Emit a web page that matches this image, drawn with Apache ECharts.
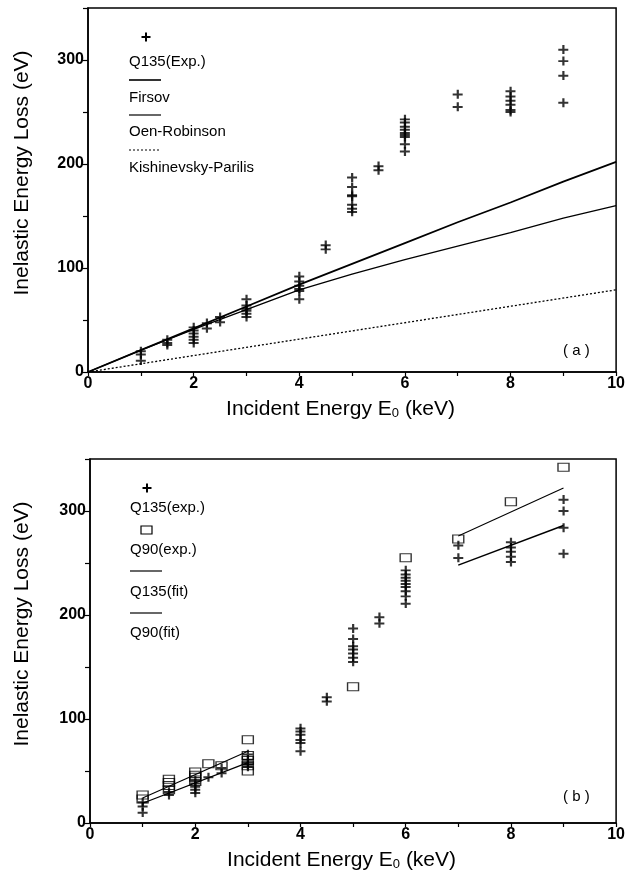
<!DOCTYPE html>
<html>
<head>
<meta charset="utf-8">
<script src="https://cdn.jsdelivr.net/npm/echarts@6/dist/echarts.min.js"></script>
<style>
  html, body { margin: 0; background: #fff; }
  #chart { width: 628px; height: 875px; }
</style>
</head>
<body>
<div id="chart"></div>
<script>
// ---- data ----
const xLabels = [0, 2, 4, 6, 8, 10];
const yLabels = [0, 100, 200, 300];

// (a) measured Q135 points [E0 keV, loss eV]
const q135a = [
  [1, 20], [1, 17], [1, 11],
  [1.5, 31], [1.5, 28], [1.5, 26],
  [2, 43], [2, 40], [2, 37], [2, 34], [2, 31], [2, 28],
  [2.25, 47], [2.25, 42],
  [2.5, 53], [2.5, 48],
  [3, 70], [3, 64], [3, 61], [3, 59], [3, 56], [3, 53],
  [4, 92], [4, 87], [4, 83], [4, 80], [4, 78], [4, 70],
  [4.5, 122], [4.5, 118],
  [5, 187], [5, 178], [5, 170], [5, 169], [5, 161], [5, 157], [5, 154],
  [5.5, 198], [5.5, 194],
  [6, 243], [6, 240], [6, 236], [6, 233], [6, 230], [6, 228], [6, 226], [6, 219], [6, 212],
  [7, 267], [7, 255],
  [8, 270], [8, 265], [8, 261], [8, 257], [8, 252], [8, 250],
  [9, 310], [9, 299], [9, 285], [9, 259]
];
// (a) theory curves
const firsov = [[0, 0], [1, 21], [2, 42], [3, 63], [4, 84], [5, 104], [6, 124], [7, 144], [8, 163], [9, 183], [10, 202]];
const oenRobinson = [[0, 0], [1, 21], [2, 41], [3, 60], [4, 79], [5, 94], [6, 108], [7, 121], [8, 134], [9, 148], [10, 160]];
const kishParilis = [[0, 0], [10, 79]];

// (b) measured points
const q135b = [
  [1, 20], [1, 16], [1, 10],
  [1.5, 30], [1.5, 27],
  [2, 41], [2, 38], [2, 35], [2, 32], [2, 29],
  [2.25, 44],
  [2.5, 53], [2.5, 48],
  [3, 66], [3, 61], [3, 58], [3, 56], [3, 54],
  [4, 91], [4, 88], [4, 85], [4, 80], [4, 77], [4, 69],
  [4.5, 121], [4.5, 117],
  [5, 187], [5, 177], [5, 170], [5, 167], [5, 163], [5, 159], [5, 155],
  [5.5, 198], [5.5, 192],
  [6, 243], [6, 239], [6, 236], [6, 233], [6, 230], [6, 227], [6, 223], [6, 218], [6, 211],
  [7, 267], [7, 255],
  [8, 270], [8, 265], [8, 261], [8, 256], [8, 251],
  [9, 311], [9, 300], [9, 284], [9, 259]
];
const q90b = [
  [1, 27], [1, 23],
  [1.5, 42], [1.5, 39], [1.5, 36], [1.5, 32],
  [2, 49], [2, 46], [2, 44], [2, 40],
  [2.25, 57],
  [2.5, 55],
  [3, 80], [3, 65], [3, 60], [3, 55], [3, 50],
  [5, 131], [6, 255], [7, 273], [8, 309], [9, 342]
];
// (b) fits, low and high energy segments
const q135FitLow = [[1, 19], [3, 58]];
const q135FitHigh = [[7, 248], [9, 286]];
const q90FitLow = [[1, 24], [3, 69]];
const q90FitHigh = [[7, 276], [9, 322]];

// ---- chart ----
const FONT = '"Liberation Sans", Arial, Helvetica, sans-serif';
const PLUS = 'path://M4,0h2.2v4h3.8v2.2h-3.8v3.8h-2.2v-3.8h-4v-2.2h4z';

const xAxisFor = (gridIndex) => ({
  type: 'value', gridIndex, min: 0, max: 10, interval: 1,
  name: 'Incident Energy E{sub|0} (keV)',
  nameLocation: 'middle', nameGap: 26,
  nameTextStyle: {
    fontFamily: FONT, fontSize: 21, color: '#000', padding: [0, 23, 0, 0],
    rich: { sub: { fontFamily: FONT, fontSize: 13, color: '#000', verticalAlign: 'bottom', padding: [9, 0, 0, 0] } }
  },
  axisLine: { show: true, onZero: false, lineStyle: { color: '#000', width: 1.5 } },
  axisTick: { show: true, length: 4, lineStyle: { color: '#000', width: 1.2 } },
  axisLabel: {
    margin: 4, color: '#000', fontFamily: FONT, fontSize: 16, fontWeight: 'bold',
    formatter: (v) => (xLabels.includes(v) ? String(v) : '')
  },
  splitLine: { show: false }
});

const yAxisFor = (gridIndex, gap) => ({
  type: 'value', gridIndex, min: 0, max: 350, interval: 50,
  name: 'Inelastic Energy Loss (eV)',
  nameLocation: 'middle', nameRotate: 90, nameGap: gap,
  nameTextStyle: { fontFamily: FONT, fontSize: 21, color: '#000', padding: [0, 0, 0, 34] },
  axisLine: { show: true, onZero: false, lineStyle: { color: '#000', width: 1.5 } },
  axisTick: { show: true, length: 5, lineStyle: { color: '#000', width: 1.2 } },
  axisLabel: {
    margin: 4, color: '#000', fontFamily: FONT, fontSize: 16, fontWeight: 'bold',
    formatter: (v) => (yLabels.includes(v) ? String(v) : '')
  },
  splitLine: { show: false }
});

const lineSeries = (name, data, idx, width, type) => ({
  name, type: 'line', data, xAxisIndex: idx, yAxisIndex: idx,
  symbol: 'none', silent: true,
  lineStyle: { color: '#000', width, type: type || 'solid' }
});

const plusSeries = (name, data, idx) => ({
  name, type: 'scatter', data, xAxisIndex: idx, yAxisIndex: idx,
  symbol: PLUS, symbolSize: [10, 9],
  itemStyle: { color: '#000' }
});

// legend drawn as graphics (symbol above label, as in the figure)
const txt = (text, x, y) => ({
  type: 'text', style: { text, x, y, font: '15px ' + FONT, fill: '#000', verticalAlign: 'middle' }
});
const plusMark = (cx, cy) => ({
  type: 'group', children: [
    { type: 'rect', shape: { x: cx - 4.5, y: cy - 1, width: 9, height: 2 }, style: { fill: '#000' } },
    { type: 'rect', shape: { x: cx - 1, y: cy - 4.5, width: 2, height: 9 }, style: { fill: '#000' } }
  ]
});
const seg = (x1, x2, y, width, dash) => ({
  type: 'line', shape: { x1, y1: y, x2, y2: y },
  style: { stroke: '#000', lineWidth: width, lineDash: dash || null }
});

const chart = echarts.init(document.getElementById('chart'), null, { renderer: 'canvas' });
chart.setOption({
  backgroundColor: '#fff',
  animation: false,
  grid: [
    { left: 88, right: 11, top: 8, bottom: 503, show: true, borderColor: '#000', borderWidth: 1.5 },
    { left: 90, right: 9, top: 459, bottom: 52, show: true, borderColor: '#000', borderWidth: 1.5 }
  ],
  xAxis: [xAxisFor(0), xAxisFor(1)],
  yAxis: [yAxisFor(0, 55), yAxisFor(1, 57)],
  series: [
    lineSeries('Firsov', firsov, 0, 1.8),
    lineSeries('Oen-Robinson', oenRobinson, 0, 1.3),
    lineSeries('Kishinevsky-Parilis', kishParilis, 0, 1.3, [2, 2]),
    plusSeries('Q135(Exp.)', q135a, 0),

    lineSeries('Q135(fit)', q135FitLow, 1, 1.3),
    lineSeries('Q135(fit)', q135FitHigh, 1, 1.5),
    lineSeries('Q90(fit)', q90FitLow, 1, 1.1),
    lineSeries('Q90(fit)', q90FitHigh, 1, 1.1),
    plusSeries('Q135(exp.)', q135b, 1),
    {
      name: 'Q90(exp.)', type: 'scatter', data: q90b, xAxisIndex: 1, yAxisIndex: 1,
      symbol: 'rect', symbolSize: [11, 8],
      itemStyle: { color: 'rgba(255,255,255,0)', borderColor: '#000', borderWidth: 1.2 }
    }
  ],
  graphic: [
    plusMark(146, 37),
    txt('Q135(Exp.)', 129, 62),
    seg(129, 161, 80, 1.6),
    txt('Firsov', 129, 98),
    seg(129, 161, 115, 1.2),
    txt('Oen-Robinson', 129, 132),
    seg(129, 161, 150, 1.2, [2, 2]),
    txt('Kishinevsky-Parilis', 129, 168),
    txt('( a )', 563, 351),

    plusMark(147, 488),
    txt('Q135(exp.)', 130, 508),
    { type: 'rect', shape: { x: 141, y: 526, width: 11, height: 8 }, style: { fill: 'none', stroke: '#000', lineWidth: 1.2 } },
    txt('Q90(exp.)', 130, 550),
    seg(130, 162, 571, 1.2),
    txt('Q135(fit)', 130, 592),
    seg(130, 162, 613, 1.2),
    txt('Q90(fit)', 130, 633),
    txt('( b )', 563, 797)
  ]
});
</script>
</body>
</html>
